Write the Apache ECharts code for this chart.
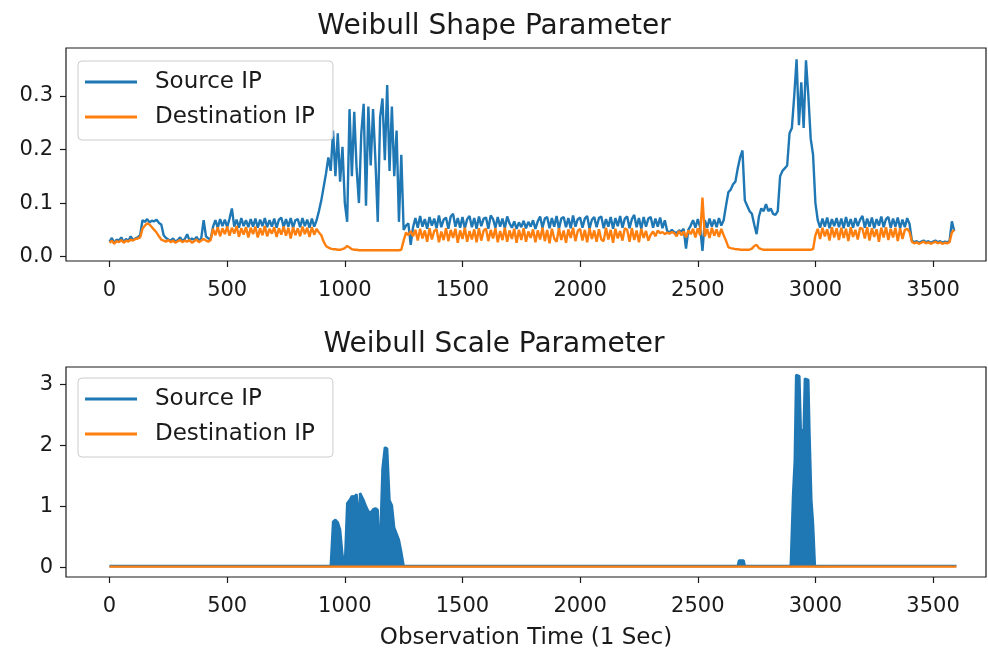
<!DOCTYPE html>
<html>
<head>
<meta charset="utf-8">
<title>Weibull parameters</title>
<script src="https://cdn.jsdelivr.net/npm/echarts@6.0.0/dist/echarts.min.js"></script>
<style>
html, body {
	margin: 0;
	padding: 0;
	background: #fff;
}
#chart {
	width: 988px;
	height: 651px;
}
</style>
</head>
<body>
<div id="chart"></div>
<script type="text/javascript">

// top panel: one reading every 10 s, each row = 100 s
var shapeStep = 10;
var srcShape = [
	0.028,0.035,0.025,0.032,0.030,0.036,0.027,0.033,0.029,0.038,
	0.031,0.034,0.036,0.040,0.068,0.065,0.070,0.064,0.067,0.066,
	0.069,0.063,0.060,0.040,0.035,0.032,0.030,0.034,0.028,0.031,
	0.036,0.029,0.033,0.042,0.030,0.034,0.031,0.037,0.029,0.035,
	0.068,0.038,0.034,0.033,0.056,0.068,0.054,0.070,0.057,0.069,
	0.055,0.071,0.090,0.056,0.069,0.054,0.072,0.057,0.068,0.055,
	0.070,0.056,0.071,0.054,0.069,0.057,0.072,0.055,0.068,0.056,
	0.071,0.054,0.069,0.073,0.055,0.070,0.056,0.072,0.054,0.068,
	0.070,0.055,0.072,0.057,0.069,0.054,0.071,0.056,0.068,0.085,
	0.105,0.130,0.155,0.185,0.160,0.235,0.150,0.230,0.140,0.205,
	0.100,0.065,0.275,0.150,0.270,0.165,0.100,0.230,0.285,0.095,
	0.280,0.170,0.275,0.180,0.065,0.260,0.295,0.180,0.320,0.160,
	0.280,0.150,0.235,0.065,0.190,0.050,0.058,0.062,0.022,0.055,
	0.072,0.054,0.076,0.056,0.070,0.052,0.074,0.058,0.071,0.053,
	0.077,0.055,0.069,0.073,0.052,0.075,0.080,0.056,0.072,0.054,
	0.074,0.053,0.070,0.076,0.055,0.072,0.052,0.075,0.057,0.071,
	0.073,0.052,0.077,0.070,0.054,0.074,0.056,0.071,0.053,0.075,
	0.062,0.054,0.066,0.052,0.064,0.055,0.067,0.053,0.065,0.056,
	0.068,0.052,0.066,0.075,0.054,0.071,0.074,0.053,0.072,0.056,
	0.076,0.052,0.071,0.074,0.055,0.072,0.053,0.077,0.056,0.070,
	0.073,0.054,0.071,0.076,0.052,0.069,0.074,0.055,0.072,0.075,
	0.053,0.070,0.056,0.074,0.052,0.072,0.057,0.076,0.054,0.071,
	0.075,0.053,0.070,0.078,0.055,0.072,0.052,0.074,0.056,0.071,
	0.074,0.054,0.071,0.056,0.073,0.053,0.068,0.048,0.045,0.050,
	0.046,0.044,0.049,0.047,0.052,0.015,0.050,0.058,0.068,0.054,
	0.070,0.055,0.011,0.068,0.054,0.071,0.056,0.069,0.055,0.072,
	0.058,0.068,0.095,0.120,0.125,0.135,0.140,0.165,0.185,0.198,
	0.105,0.095,0.085,0.080,0.060,0.042,0.075,0.090,0.085,0.098,
	0.085,0.090,0.080,0.078,0.085,0.150,0.160,0.165,0.170,0.230,
	0.240,0.300,0.368,0.245,0.325,0.240,0.366,0.300,0.220,0.190,
	0.100,0.068,0.054,0.071,0.056,0.073,0.053,0.070,0.057,0.072,
	0.055,0.071,0.053,0.074,0.056,0.070,0.054,0.072,0.057,0.069,
	0.076,0.054,0.071,0.056,0.073,0.053,0.070,0.058,0.075,0.055,
	0.070,0.074,0.054,0.071,0.056,0.073,0.053,0.069,0.055,0.072,
	0.061,0.030,0.027,0.029,0.026,0.028,0.030,0.027,0.029,0.026,
	0.028,0.030,0.027,0.029,0.026,0.028,0.027,0.029,0.066,0.048
];
var dstShape = [
	0.026,0.030,0.024,0.029,0.027,0.031,0.026,0.030,0.028,0.032,
	0.030,0.033,0.034,0.036,0.052,0.058,0.062,0.060,0.055,0.050,
	0.045,0.038,0.032,0.030,0.028,0.031,0.027,0.030,0.026,0.029,
	0.031,0.027,0.030,0.028,0.031,0.026,0.029,0.032,0.027,0.030,
	0.033,0.030,0.028,0.031,0.052,0.040,0.055,0.038,0.053,0.042,
	0.056,0.039,0.054,0.043,0.057,0.037,0.053,0.041,0.055,0.036,
	0.054,0.042,0.056,0.036,0.053,0.040,0.057,0.038,0.052,0.043,
	0.055,0.037,0.053,0.041,0.056,0.039,0.054,0.034,0.055,0.040,
	0.053,0.038,0.056,0.042,0.054,0.037,0.055,0.041,0.052,0.045,
	0.040,0.028,0.020,0.017,0.015,0.014,0.014,0.013,0.013,0.014,
	0.016,0.020,0.017,0.014,0.013,0.013,0.012,0.012,0.012,0.012,
	0.012,0.012,0.012,0.012,0.012,0.012,0.012,0.012,0.012,0.012,
	0.012,0.012,0.012,0.012,0.013,0.030,0.045,0.040,0.048,0.038,
	0.050,0.030,0.052,0.034,0.049,0.028,0.053,0.032,0.048,0.051,
	0.027,0.047,0.031,0.053,0.029,0.050,0.035,0.052,0.026,0.049,
	0.033,0.054,0.028,0.048,0.032,0.051,0.027,0.053,0.030,0.049,
	0.052,0.029,0.050,0.034,0.053,0.027,0.048,0.031,0.054,0.028,
	0.049,0.033,0.052,0.026,0.050,0.031,0.053,0.028,0.047,0.035,
	0.051,0.027,0.049,0.032,0.054,0.029,0.050,0.025,0.052,0.034,
	0.028,0.053,0.031,0.049,0.026,0.051,0.035,0.054,0.029,0.048,
	0.052,0.030,0.050,0.027,0.053,0.033,0.049,0.028,0.051,0.032,
	0.029,0.054,0.032,0.050,0.026,0.052,0.034,0.048,0.030,0.053,
	0.050,0.028,0.053,0.031,0.049,0.027,0.052,0.035,0.048,0.030,
	0.041,0.047,0.038,0.049,0.044,0.046,0.042,0.045,0.043,0.046,
	0.044,0.038,0.048,0.040,0.047,0.036,0.049,0.042,0.052,0.036,
	0.053,0.040,0.110,0.038,0.052,0.035,0.054,0.039,0.051,0.037,
	0.052,0.040,0.030,0.018,0.016,0.015,0.014,0.014,0.013,0.013,
	0.013,0.013,0.013,0.015,0.020,0.022,0.016,0.014,0.013,0.013,
	0.013,0.013,0.013,0.013,0.013,0.013,0.013,0.013,0.013,0.013,
	0.013,0.013,0.013,0.013,0.013,0.013,0.013,0.013,0.013,0.014,
	0.040,0.052,0.033,0.054,0.038,0.051,0.030,0.055,0.036,0.053,
	0.031,0.054,0.035,0.052,0.029,0.055,0.037,0.050,0.032,0.054,
	0.052,0.034,0.055,0.030,0.053,0.037,0.051,0.028,0.054,0.036,
	0.055,0.031,0.052,0.036,0.054,0.029,0.053,0.033,0.050,0.052,
	0.046,0.028,0.025,0.027,0.024,0.026,0.028,0.025,0.027,0.024,
	0.026,0.028,0.025,0.027,0.024,0.026,0.025,0.027,0.045,0.050
];

// bottom panel: flat almost everywhere, so only the turning points
var srcScaleTime = [0, 940, 950, 960, 970, 980, 990, 1000, 1005, 1010, 1020, 1030, 1040, 1050, 1060, 1065, 1070, 1080, 1090,
	1100, 1110, 1120, 1130, 1140, 1150, 1155, 1160, 1170, 1180, 1190, 1200, 1210, 1220, 1230, 1240, 1250,
	2670, 2675, 2695, 2700, 2895, 2905, 2912, 2918, 2932, 2938, 2950, 2955, 2970, 2975, 2983, 2990, 2998, 3599];
var srcScale = [0.02, 0.02, 0.75, 0.78, 0.74, 0.62, 0.20, 0.03, 0.02, 1.05, 1.10, 1.17, 1.16, 1.20, 0.70, 1.22, 1.23, 1.10, 1.00,
	0.92, 0.90, 0.95, 0.97, 0.94, 0.10, 1.00, 1.62, 1.97, 1.95, 1.10, 1.02, 0.65, 0.55, 0.45, 0.25, 0.02,
	0.02, 0.11, 0.11, 0.02, 0.02, 1.20, 1.75, 3.16, 3.14, 2.25, 2.25, 3.10, 3.08, 2.20, 1.10, 0.72, 0.02, 0.02];
var dstScaleTime = [0, 3599];
var dstScale = [0.01, 0.01];

var xTicks = [0, 500, 1000, 1500, 2000, 2500, 3000, 3500];
var shapeTicks = [0, 0.1, 0.2, 0.3];
var scaleTicks = [0, 1, 2, 3];

var seriesNames = ['Source IP', 'Destination IP'];
var titles = ['Weibull Shape Parameter', 'Weibull Scale Parameter'];
var xLabel = 'Observation Time (1 Sec)';

var blue = '#1f77b4';
var orange = '#ff7f0e';
var ink = '#1a1a1a';
var font = 'DejaVu Sans';

function pairs(xs, ys) {
	var out = [];
	for (var i = 0; i < ys.length; i++) {
		out.push([xs[i], ys[i]]);
	}
	return out;
}

var shapeTime = srcShape.map(function (v, i) { return i * shapeStep; });

function xAxisFor(gridIndex, withName) {
	var ax = {
		type: 'value',
		gridIndex: gridIndex,
		min: -185,
		max: 3725,
		axisLine: {show: false, onZero: false},
		axisTick: {show: true, length: 6, lineStyle: {color: ink, width: 1.2}, customValues: xTicks},
		axisLabel: {
			color: ink, fontSize: 21, fontFamily: font, margin: 19, customValues: xTicks,
			formatter: function (v) { return String(v); }
		},
		splitLine: {show: false}
	};
	if (withName) {
		ax.name = xLabel;
		ax.nameLocation = 'middle';
		ax.nameGap = 50;
		ax.nameTextStyle = {color: ink, fontSize: 23, fontFamily: font};
	}
	return ax;
}

function yAxisFor(gridIndex, lo, hi, ticks, digits) {
	return {
		type: 'value',
		gridIndex: gridIndex,
		min: lo,
		max: hi,
		axisLine: {show: false, onZero: false},
		axisTick: {show: true, length: 6, lineStyle: {color: ink, width: 1.2}, customValues: ticks},
		axisLabel: {
			color: ink, fontSize: 21, fontFamily: font, margin: 13, customValues: ticks,
			formatter: function (v) { return v.toFixed(digits); }
		},
		splitLine: {show: false}
	};
}

function legendAt(top) {
	return {
		orient: 'vertical',
		left: 78,
		top: top,
		data: seriesNames,
		icon: 'rect',
		itemWidth: 52,
		itemHeight: 3,
		itemGap: 7,
		padding: [7, 18, 9, 7],
		backgroundColor: 'rgba(255,255,255,0.8)',
		borderColor: '#cccccc',
		borderWidth: 1,
		borderRadius: 4,
		selectedMode: false,
		textStyle: {color: ink, fontSize: 23, fontFamily: font, lineHeight: 28, padding: [0, 0, 0, 13]}
	};
}

var lineStyleOf = function (c) { return {color: c, width: 2.4}; };

var option = {
	animation: false,
	backgroundColor: '#fff',
	title: [{
		text: titles[0],
		left: 'center',
		top: 13,
		padding: [0, 0, 0, 76],
		textStyle: {color: ink, fontSize: 28, fontWeight: 'normal', fontFamily: font}
	}, {
		text: titles[1],
		left: 'center',
		top: 331,
		padding: [0, 0, 0, 76],
		textStyle: {color: ink, fontSize: 28, fontWeight: 'normal', fontFamily: font}
	}],
	legend: [legendAt(61), legendAt(378)],
	grid: [
		{left: 66, top: 48, width: 920, height: 213, show: true, borderColor: ink, borderWidth: 1.2, backgroundColor: 'transparent'},
		{left: 66, top: 367, width: 920, height: 211, show: true, borderColor: ink, borderWidth: 1.2, backgroundColor: 'transparent'}
	],
	xAxis: [xAxisFor(0, false), xAxisFor(1, true)],
	yAxis: [
		yAxisFor(0, -0.008, 0.389, shapeTicks, 1),
		yAxisFor(1, -0.16, 3.29, scaleTicks, 0)
	],
	series: [{
		name: seriesNames[0],
		type: 'line',
		xAxisIndex: 0,
		yAxisIndex: 0,
		showSymbol: false,
		color: blue,
		lineStyle: lineStyleOf(blue),
		data: pairs(shapeTime, srcShape)
	}, {
		name: seriesNames[1],
		type: 'line',
		xAxisIndex: 0,
		yAxisIndex: 0,
		showSymbol: false,
		color: orange,
		lineStyle: lineStyleOf(orange),
		data: pairs(shapeTime, dstShape)
	}, {
		name: seriesNames[0],
		type: 'line',
		xAxisIndex: 1,
		yAxisIndex: 1,
		showSymbol: false,
		color: blue,
		lineStyle: lineStyleOf(blue),
		areaStyle: {color: blue, opacity: 1, origin: 0},
		data: pairs(srcScaleTime, srcScale)
	}, {
		name: seriesNames[1],
		type: 'line',
		xAxisIndex: 1,
		yAxisIndex: 1,
		showSymbol: false,
		color: orange,
		lineStyle: lineStyleOf(orange),
		data: pairs(dstScaleTime, dstScale)
	}]
};

var chart = echarts.init(document.getElementById('chart'));
chart.setOption(option);
</script>
</body>
</html>
